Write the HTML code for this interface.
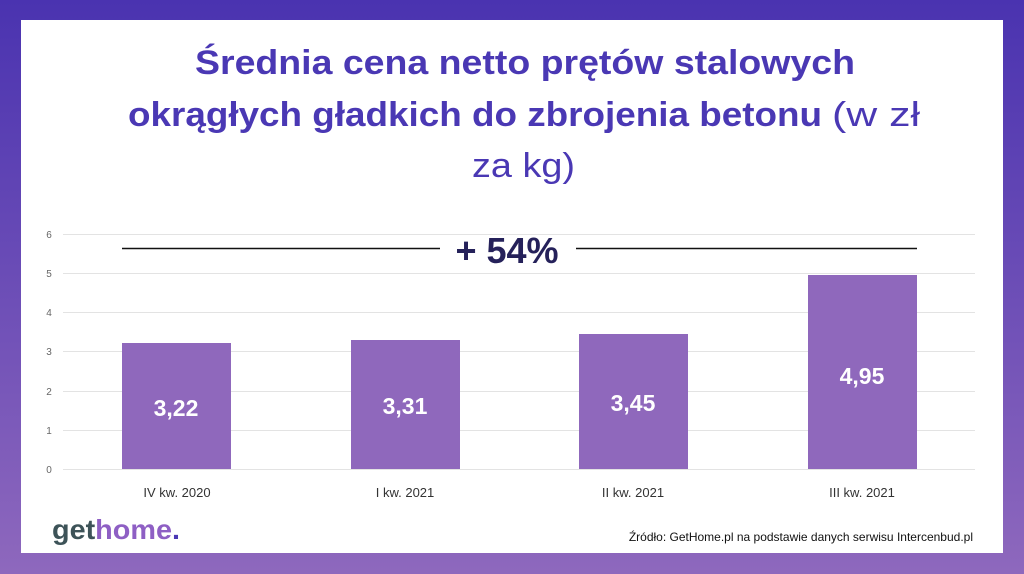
<!DOCTYPE html>
<html><head><meta charset="utf-8"><style>
html,body{margin:0;padding:0;width:1024px;height:574px;overflow:hidden}
</style></head><body>
<svg width="1024" height="574" viewBox="0 0 1024 574" xmlns="http://www.w3.org/2000/svg" font-family="Liberation Sans, sans-serif">
<defs><linearGradient id="g" x1="0" y1="0" x2="0" y2="1"><stop offset="0" stop-color="#4a33b0"/><stop offset="1" stop-color="#8e68bd"/></linearGradient></defs>
<rect width="1024" height="574" fill="url(#g)"/>
<rect x="21" y="20" width="982" height="533" fill="#fff"/>
<g fill="#4a38b4">
<text x="195" y="74" font-size="34" font-weight="bold" textLength="660" lengthAdjust="spacingAndGlyphs">Średnia cena netto prętów stalowych</text>
<text x="128" y="126" font-size="34" font-weight="bold" textLength="694" lengthAdjust="spacingAndGlyphs">okrągłych gładkich do zbrojenia betonu</text>
<text x="832" y="126" font-size="34" textLength="88" lengthAdjust="spacingAndGlyphs">(w zł</text>
<text x="472" y="177" font-size="34" textLength="103" lengthAdjust="spacingAndGlyphs">za kg)</text>
</g>
<g stroke="#e3e3e3" stroke-width="1">
<line x1="63" x2="975" y1="234.5" y2="234.5"/><line x1="63" x2="975" y1="273.5" y2="273.5"/>
<line x1="63" x2="975" y1="312.5" y2="312.5"/><line x1="63" x2="975" y1="351.5" y2="351.5"/>
<line x1="63" x2="975" y1="391.5" y2="391.5"/><line x1="63" x2="975" y1="430.5" y2="430.5"/>
<line x1="63" x2="975" y1="469.5" y2="469.5"/>
</g>
<g fill="#666" font-size="10" text-anchor="middle">
<text x="49" y="238">6</text><text x="49" y="277">5</text><text x="49" y="316">4</text><text x="49" y="355">3</text><text x="49" y="395">2</text><text x="49" y="434">1</text><text x="49" y="473">0</text>
</g>
<g fill="#8f68bc">
<rect x="122" y="343" width="109" height="126"/>
<rect x="351" y="340" width="109" height="129"/>
<rect x="579" y="334" width="109" height="135"/>
<rect x="808" y="275" width="109" height="194"/>
</g>
<g fill="#fff" font-size="23" font-weight="bold" text-anchor="middle">
<text x="176" y="416">3,22</text><text x="405" y="414">3,31</text><text x="633" y="411">3,45</text><text x="862" y="384">4,95</text>
</g>
<g fill="#333" font-size="13" text-anchor="middle">
<text x="177" y="497">IV kw. 2020</text><text x="405" y="497">I kw. 2021</text><text x="633" y="497">II kw. 2021</text><text x="862" y="497">III kw. 2021</text>
</g>
<g stroke="#111" stroke-width="1.5"><line x1="122" x2="440" y1="248.5" y2="248.5"/><line x1="576" x2="917" y1="248.5" y2="248.5"/></g>
<text x="507" y="263" font-size="36" font-weight="bold" fill="#25215a" text-anchor="middle">+ 54%</text>
<text x="52" y="539" font-size="28" font-weight="bold" textLength="128" lengthAdjust="spacingAndGlyphs"><tspan fill="#3d5358">get</tspan><tspan fill="#8e5fc4">home</tspan><tspan fill="#4a38b4">.</tspan></text>
<text x="973" y="541" font-size="12" fill="#111" text-anchor="end">Źródło: GetHome.pl na podstawie danych serwisu Intercenbud.pl</text>
</svg>
</body></html>
